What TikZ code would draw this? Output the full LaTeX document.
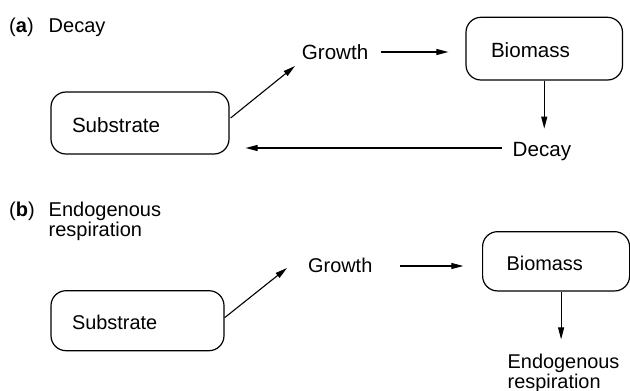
\documentclass[tikz,border=0pt]{standalone}
\usepackage{fontspec}
\setmainfont{Liberation Sans}
\usetikzlibrary{arrows.meta,calc}
\begin{document}
\begin{tikzpicture}[x=1pt,y=-1pt,
  every node/.style={inner sep=0pt},
  fa/.style={font=\fontsize{20.6}{22}\selectfont},
  fb/.style={font=\fontsize{19.9}{20.5}\selectfont},
  lab/.style={font=\fontsize{20}{20.5}\selectfont},
  txt/.style={anchor=base west},
  box/.style={draw, line width=1.2pt, rounded corners=15pt,
    text height=18pt, text depth=0pt, align=left},
  arr/.style={line width=1.1pt, -{Triangle[length=12pt,width=6pt]}}]
\useasboundingbox (0,0) rectangle (630,391);

% ---- (a) decay ----
\node[txt, lab] (tagA) at (9,32) {(\textbf{a})};
\node[txt, lab] (titA) at (48.5,32) {Decay};
\node[box, fa, inner xsep=21pt, text width=136pt, minimum height=62pt]
  (subA) at (140,123) {Substrate};
\node[box, fa, inner xsep=25pt, text width=106.5pt, minimum height=62.7pt]
  (bioA) at (544.25,48.65) {Biomass};
\node[txt, fa] (grA) at (301.7,59) {Growth};
\node[txt, fa] (decA) at (512.5,156) {Decay};

\draw[arr] ($(subA.east)+(1,-5)$) -- ($(grA.base west)+(-6.7,7)$);
\coordinate (gaA) at ($(grA.base east)+(13,-7)$);
\draw[arr] (gaA) -- ($(bioA.west |- gaA)+(-17,0)$);
\draw[arr] (bioA.south) -- ($(bioA.south |- decA.north)+(0,-13)$);
\coordinate (daA) at ($(decA.base west)+(-10.5,-8)$);
\draw[arr] (daA) -- ($(subA.east |- daA)+(16,0)$);

% ---- (b) endogenous respiration ----
\node[txt, lab] (tagB) at (9,216) {(\textbf{b})};
\node[txt, lab] (titB) at (48.5,216)
  {\begin{tabular}[t]{@{}l@{}}Endogenous\\respiration\end{tabular}};
\node[box, fb, inner xsep=21pt, text width=131pt, minimum height=60pt]
  (subB) at (137.5,320.7) {Substrate};
\node[box, fb, inner xsep=24pt, text width=99pt, minimum height=59.3pt]
  (bioB) at (556.1,261.3) {Biomass};
\node[txt, fb] (grB) at (308,272.7) {Growth};
\node[txt, fb] (endB) at (507.5,368)
  {\begin{tabular}[t]{@{}l@{}}Endogenous\\respiration\end{tabular}};

\draw[arr] ($(subB.east)+(0,-3)$) -- ($(grB.base west)+(-21,-4.7)$);
\coordinate (gaB) at ($(grB.base east)+(27.6,-6.7)$);
\draw[arr] (gaB) -- ($(bioB.west |- gaB)+(-18.7,0)$);
\draw[arr] ($(bioB.south)+(5,0)$) -- ($(bioB.south |- endB.north)+(5,-14)$);
\end{tikzpicture}
\end{document}
